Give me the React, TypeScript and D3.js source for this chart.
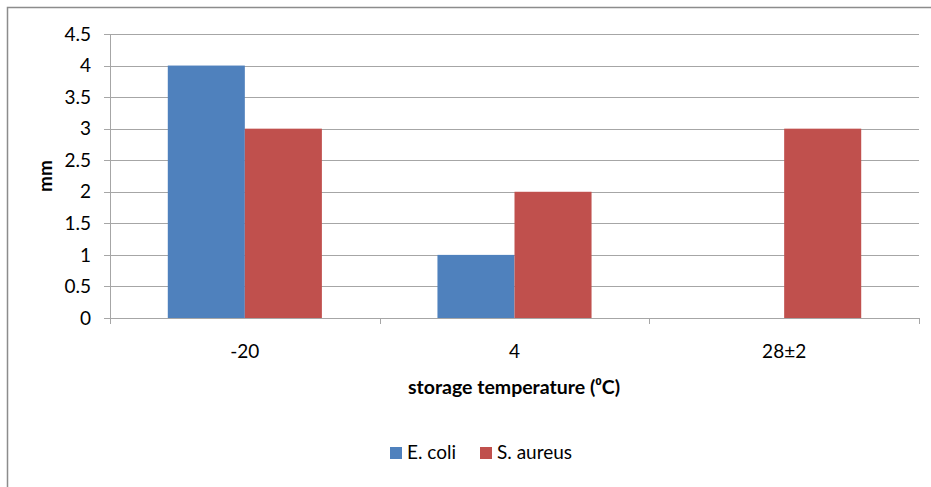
import React from "react";
import * as d3 from "d3";

const categories = ["-20", "4", "28±2"];
const seriesNames = ["E. coli", "S. aureus"];
const ecoli = [4, 1, 0];
const saureus = [3, 2, 3];
const yTicks = [0, 0.5, 1, 1.5, 2, 2.5, 3, 3.5, 4, 4.5];
const colors = ["#4F81BD", "#C0504D"];

const W = 931, H = 487;
const left = 110, right = 919, top = 34, bottom = 318;
const font = "Lato, 'Open Sans', sans-serif";

export default function App() {
  const y = d3.scaleLinear().domain([0, 4.5]).range([bottom, top]);
  const x = d3.scaleBand().domain(categories).range([left, right]).paddingInner(0).paddingOuter(0);
  const inner = d3.scaleBand().domain(seriesNames).range([0, x.bandwidth()]).paddingInner(0).paddingOuter(0.75);
  const data = [ecoli, saureus];
  const ticksX = [...categories.map((c) => x(c)!), right];
  return (
    <svg width={W} height={H} style={{ position: "absolute", left: 0, top: 0 }}>
      <rect x={0} y={0} width={W} height={H} fill="#fff" />
      <rect x={7.5} y={7.5} width={W + 10} height={H + 10} fill="none" stroke="#8c8c8c" strokeWidth={1.5} />
      {yTicks.map((t) => (
        <g key={t}>
          {t > 0 && <line x1={left} x2={right} y1={Math.round(y(t)) + 0.5} y2={Math.round(y(t)) + 0.5} stroke="#a6a6a6" strokeWidth={1} />}
          <line x1={left - 6} x2={left} y1={Math.round(y(t)) + 0.5} y2={Math.round(y(t)) + 0.5} stroke="#a6a6a6" />
          <text x={left - 19} y={y(t)} dy="0.35em" textAnchor="end" fontFamily={font} fontSize={19} fill="#000">{t}</text>
        </g>
      ))}
      {data.map((vals, si) =>
        vals.map((v, ci) => (
          <rect key={`${si}-${ci}`} x={x(categories[ci])! + inner(seriesNames[si])!} y={y(v)} width={inner.bandwidth()} height={y(0) - y(v)} fill={colors[si]} />
        ))
      )}
      <line x1={left + 0.5} x2={left + 0.5} y1={top} y2={bottom} stroke="#a6a6a6" />
      <line x1={left} x2={right} y1={bottom + 0.5} y2={bottom + 0.5} stroke="#a6a6a6" />
      {ticksX.map((tx, i) => (
        <line key={i} x1={Math.round(tx) + 0.5} x2={Math.round(tx) + 0.5} y1={bottom} y2={bottom + 6} stroke="#a6a6a6" />
      ))}
      {categories.map((c) => (
        <text key={c} x={x(c)! + x.bandwidth() / 2} y={351} dy="0.35em" textAnchor="middle" fontFamily={font} fontSize={19} fill="#000">{c}</text>
      ))}
      <text x={514} y={387} dy="0.35em" textAnchor="middle" fontFamily={font} fontSize={19.5} fontWeight="bold" fill="#000">storage temperature (⁰C)</text>
      <text transform={`translate(45,${(top + bottom) / 2}) rotate(-90)`} dy="0.35em" textAnchor="middle" fontFamily={font} fontSize={19} fontWeight="bold" fill="#000">mm</text>
      <rect x={390} y={447} width={12} height={12} fill={colors[0]} />
      <text x={407} y={452} dy="0.35em" fontFamily={font} fontSize={19} fill="#000">{seriesNames[0]}</text>
      <rect x={480} y={447} width={12} height={12} fill={colors[1]} />
      <text x={497} y={452} dy="0.35em" fontFamily={font} fontSize={19} fill="#000">{seriesNames[1]}</text>
    </svg>
  );
}
